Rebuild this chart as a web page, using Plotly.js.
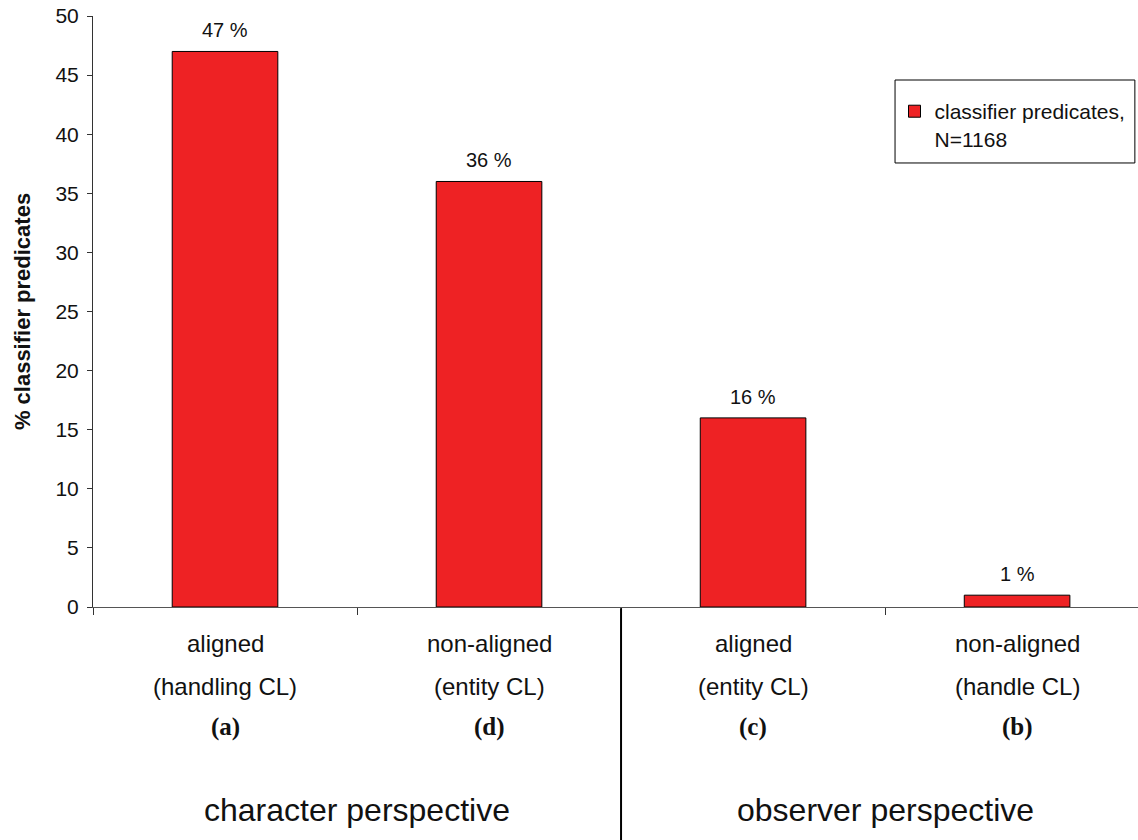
<!DOCTYPE html>
<html><head><meta charset="utf-8">
<script src="https://cdn.plot.ly/plotly-3.0.1.min.js"></script>
<style>html,body{margin:0;padding:0;background:#fff}</style>
</head><body>
<div id="chart" style="width:1138px;height:840px"></div>
<script>
const categories = ["a_aligned", "d_nonaligned", "c_aligned", "b_nonaligned"];
const values = [47, 36, 16, 1];
const line1 = ["aligned", "non-aligned", "aligned", "non-aligned"];
const line2 = ["(handling CL)", "(entity CL)", "(entity CL)", "(handle CL)"];
const letters = ["(a)", "(d)", "(c)", "(b)"];
const groups = ["character perspective", "observer perspective"];
const groupPos = [0.5, 2.5];
const seriesName = "classifier predicates,<br>N=1168";
const yTitle = "% classifier predicates";

const FONT = "Liberation Sans, Arial, sans-serif";
const annotations = [];
categories.forEach((c, i) => {
  annotations.push({x: c, xref: 'x', y: values[i], yref: 'y', text: values[i] + ' %', showarrow: false, yanchor: 'bottom', yshift: 8, font: {family: FONT, size: 20, color: '#111'}});
  annotations.push({x: c, xref: 'x', y: -0.062, yref: 'paper', text: line1[i], showarrow: false, yanchor: 'middle', font: {family: FONT, size: 24, color: '#111'}});
  annotations.push({x: c, xref: 'x', y: -0.135, yref: 'paper', text: line2[i], showarrow: false, yanchor: 'middle', font: {family: FONT, size: 24, color: '#111'}});
  annotations.push({x: c, xref: 'x', y: -0.203, yref: 'paper', text: '<b>' + letters[i] + '</b>', showarrow: false, yanchor: 'middle', font: {family: "Liberation Serif, Times New Roman, serif", size: 25, color: '#111'}});
});
groups.forEach((g, i) => {
  annotations.push({x: groupPos[i], xref: 'x', y: -0.343, yref: 'paper', text: g, showarrow: false, yanchor: 'middle', font: {family: FONT, size: 32, color: '#111'}});
});

const trace = {
  type: 'bar', x: categories, y: values, name: seriesName,
  marker: {color: '#EE2224', line: {color: '#000', width: 1}},
  width: 0.40, showlegend: true
};

const layout = {
  width: 1138, height: 840,
  margin: {l: 93, r: 0, t: 16, b: 233},
  paper_bgcolor: '#fff', plot_bgcolor: '#fff',
  showlegend: true,
  legend: {x: 0.767, y: 0.873, xanchor: 'left', yanchor: 'top', borderwidth: 0, valign: 'top',
    bgcolor: 'rgba(0,0,0,0)', font: {family: FONT, size: 21, color: '#111'}},
  xaxis: {type: 'category', range: [-0.5, 3.458], showticklabels: false, ticks: 'outside', tickson: 'boundaries',
    ticklen: 7, tickcolor: '#333', showline: true, linecolor: '#555', linewidth: 1, showgrid: false, zeroline: false, fixedrange: true},
  yaxis: {range: [0, 50], dtick: 5, ticks: 'outside', ticklen: 5, tickcolor: '#333', showline: true, linecolor: '#333',
    linewidth: 1, showgrid: false, zeroline: false, ticklabelstandoff: 4,
    tickfont: {family: FONT, size: 21, color: '#111'},
    title: {text: '<b>' + yTitle + '</b>', font: {family: FONT, size: 22, color: '#111'}, standoff: 18}},
  shapes: [
    {type: 'line', xref: 'x', yref: 'paper', x0: 1.5, x1: 1.5, y0: -0.002, y1: -0.4, line: {color: '#000', width: 2}},
    {type: 'rect', xref: 'paper', yref: 'paper', x0: 0.7675, x1: 0.997, y0: 0.7513, y1: 0.8917, line: {color: '#000', width: 1}, fillcolor: '#fff', layer: 'below'}
  ],
  annotations: annotations
};
Plotly.newPlot('chart', [trace], layout, {displayModeBar: false, staticPlot: true});
</script>
</body></html>
